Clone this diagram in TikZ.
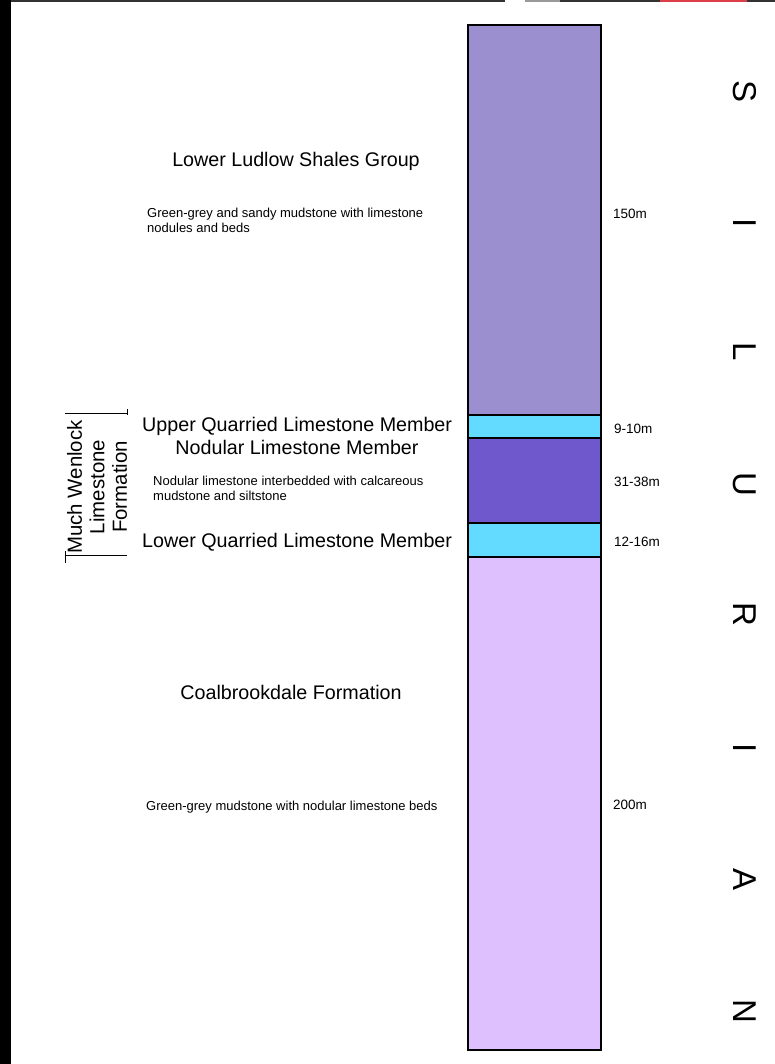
\documentclass[tikz,border=0pt]{standalone}
\usepackage{fontspec}
\setmainfont{Liberation Sans}
\usetikzlibrary{positioning}
\definecolor{ludlowcol}{RGB}{155,143,207}
\definecolor{quarrycol}{RGB}{99,218,255}
\definecolor{nodularcol}{RGB}{111,87,204}
\definecolor{coalcol}{RGB}{222,192,255}
\definecolor{tabred}{RGB}{222,62,72}
\tikzset{
  layer/.style={draw, line width=1.5pt, minimum width=133pt, outer sep=0pt, inner sep=0pt},
  unitname/.style={font=\fontsize{19.7}{22}\selectfont, inner sep=0pt},
  desc/.style={font=\fontsize{13}{15}\selectfont, align=left, anchor=base west, inner sep=0pt},
  metres/.style={font=\fontsize{13.5}{15}\selectfont, anchor=base west, inner sep=0pt},
  era/.style={font=\fontsize{33}{33}\selectfont, rotate=-90, inner sep=0pt}
}

\begin{document}
\begin{tikzpicture}[x=1pt, y=-1pt, node distance=0pt]
  \useasboundingbox (0,0) rectangle (775,1064);

  \fill[black] (0,0) rectangle (11,1064);
  \fill[black!80] (11,0) rectangle (775,2);
  \fill[white] (505,0) rectangle (525,2);
  \fill[black!40] (525,0) rectangle (560,2);
  \fill[tabred] (660,0) rectangle (747,2);

  \node [layer, fill=ludlowcol, minimum height=390pt, anchor=north west] (ludlow) at (468,25) {};
  \node [layer, fill=quarrycol, minimum height=23pt] (upperq) [below=of ludlow] {};
  \node [layer, fill=nodularcol, minimum height=85pt] (nodular) [below=of upperq] {};
  \node [layer, fill=quarrycol, minimum height=34pt] (lowerq) [below=of nodular] {};
  \node [layer, fill=coalcol, minimum height=493pt] (coal) [below=of lowerq] {};

  \node [unitname, anchor=base] (ludlowname) at (296,167) {Lower Ludlow Shales Group};
  \node [desc] (ludlowtext) at (147,233) {Green-grey and sandy mudstone with limestone\\nodules and beds};
  \node [unitname, anchor=base west] (upperqname) at (142,431) {Upper Quarried Limestone Member};
  \node [unitname, anchor=base] (nodularname) at (297,454) {Nodular Limestone Member};
  \node [desc] (nodulartext) at (153,500) {Nodular limestone interbedded with calcareous\\mudstone and siltstone};
  \node [unitname, anchor=base west] (lowerqname) at (142,547) {Lower Quarried Limestone Member};
  \node [unitname, anchor=base] (coalname) at (291,699) {Coalbrookdale Formation};
  \node [desc] (coaltext) at (146,810) {Green-grey mudstone with nodular limestone beds};

  \node [metres] (ludlowm) at (613,219) {150m};
  \node [metres] (upperqm) at (614,433) {9-10m};
  \node [metres] (nodularm) at (614,486) {31-38m};
  \node [metres] (lowerqm) at (614,546) {12-16m};
  \node [metres] (coalm) at (613,809) {200m};

  \node [unitname, font=\fontsize{20.4}{22.5}\selectfont, rotate=90, align=center] (wenlock) at (97,487) {Much Wenlock\\Limestone\\Formation};
  \draw [line width=0.8pt] (65,413) -- (127,413)
        (65,555) -- (127,555);
  \draw [line width=0.8pt] (127,409) -- (127,415)
        (65,551) -- (65,563);

  \node [era] (era1) at (745,92) {S};
  \node [era] (era2) at (745,223) {I};
  \node [era] (era3) at (745,352) {L};
  \node [era] (era4) at (745,484) {U};
  \node [era] (era5) at (745,614) {R};
  \node [era] (era6) at (745,748) {I};
  \node [era] (era7) at (745,879) {A};
  \node [era] (era8) at (745,1011) {N};
\end{tikzpicture}
\end{document}
